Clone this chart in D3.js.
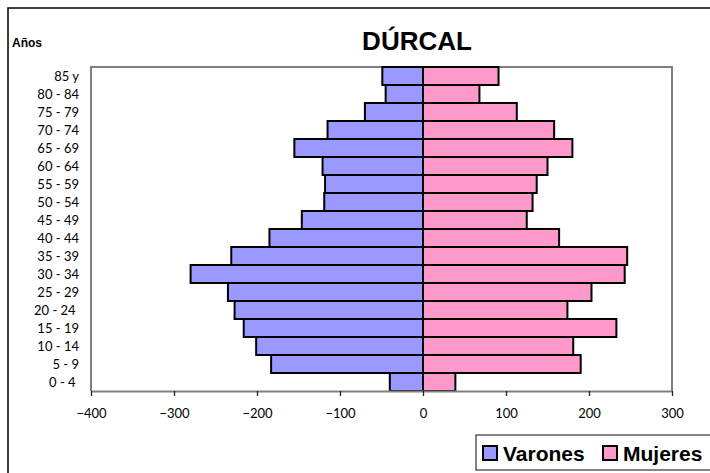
<!DOCTYPE html>
<html lang="es">
<head>
    <meta charset="UTF-8">
    <title>DÚRCAL</title>
    <script src="https://cdn.jsdelivr.net/npm/d3@7"></script>
    <style>
        body { margin: 0; background: #fff; }
    </style>
</head>
<body>
<script type="text/javascript">
    var width = 710;
    var height = 473;

    // datos (de abajo hacia arriba)
    var categories = ["0 - 4 ", "5 - 9", "10 - 14", "15 - 19", "20 - 24 ", "25 - 29", "30 - 34", "35 - 39",
        "40 - 44", "45 - 49", "50 - 54", "55 - 59", "60 - 64", "65 - 69", "70 - 74", "75 - 79", "80 - 84", "85 y"];
    var varones = [40, 183, 201, 216, 227, 235, 280, 231, 185, 146, 119, 118, 121, 155, 115, 70, 45, 49];
    var mujeres = [39, 190, 181, 233, 174, 203, 243, 246, 164, 125, 132, 137, 150, 180, 158, 113, 68, 91];
    var xTicks = [-400, -300, -200, -100, 0, 100, 200, 300];

    var plot = {left: 91, right: 672, top: 67, bottom: 391};
    var arial = "'Liberation Sans', Arial, sans-serif";
    var lato = "Lato, sans-serif";

    var svg = d3.select('body').append('svg')
            .attr('width', width)
            .attr('height', height);

    // marco exterior
    svg.append("rect")
            .attr("x", 8).attr("y", 8)
            .attr("width", 760).attr("height", 520)
            .attr("fill", "white")
            .attr("stroke", "black")
            .attr("stroke-width", 1.5);

    var xScale = d3.scaleLinear()
            .domain([-400, 300])
            .range([plot.left, plot.right]);
    var yScale = d3.scaleBand()
            .domain(categories.slice().reverse())
            .range([plot.top, plot.bottom])
            .padding(0);

    // borde del area de trazado
    svg.append("path")
            .attr("d", "M" + plot.left + "," + plot.bottom + "V" + plot.top + "H" + plot.right + "V" + plot.bottom)
            .attr("fill", "none")
            .attr("stroke", "#808080")
            .attr("stroke-width", 2);

    function drawBars(data, cls, color, left) {
        svg.selectAll("rect." + cls)
                .data(data)
                .enter()
                .append("rect")
                .attr("class", cls)
                .attr("fill", color)
                .attr("stroke", "black")
                .attr("stroke-width", 2)
                .attr("x", function (d) {
                    return left ? xScale(-d) : xScale(0);
                })
                .attr("y", function (d, i) {
                    return yScale(categories[i]);
                })
                .attr("width", function (d) {
                    return left ? xScale(0) - xScale(-d) : xScale(d) - xScale(0);
                })
                .attr("height", yScale.bandwidth());
    }

    drawBars(varones, "varones", "#9999FF", true);
    drawBars(mujeres, "mujeres", "#FF99CC", false);

    // eje x
    var xAxis = d3.axisBottom(xScale)
            .tickValues(xTicks)
            .tickSize(5)
            .tickSizeOuter(0)
            .tickPadding(13);
    var gx = svg.append("g")
            .attr("transform", "translate(0," + plot.bottom + ")")
            .call(xAxis);
    gx.select(".domain").attr("stroke", "#808080").attr("stroke-width", 2);
    gx.selectAll(".tick line").attr("stroke", "#222").attr("stroke-width", 1.3);
    gx.selectAll(".tick text")
            .style("font-family", lato)
            .style("font-size", "13px")
            .attr("fill", "#000");

    // etiquetas del eje y
    svg.selectAll("text.ylab")
            .data(categories)
            .enter()
            .append("text")
            .attr("class", "ylab")
            .attr("x", 79)
            .attr("y", function (d) {
                return yScale(d) + yScale.bandwidth() / 2;
            })
            .attr("dy", "0.35em")
            .attr("text-anchor", "end")
            .style("font-family", lato)
            .style("font-size", "13px")
            .style("white-space", "pre")
            .text(function (d) {
                return d;
            });

    // titulos
    svg.append("text")
            .attr("x", 417)
            .attr("y", 50)
            .attr("text-anchor", "middle")
            .style("font-family", arial)
            .style("font-weight", "bold")
            .style("font-size", "26px")
            .text("DÚRCAL");
    svg.append("text")
            .attr("x", 12)
            .attr("y", 47)
            .style("font-family", arial)
            .style("font-weight", "bold")
            .style("font-size", "12px")
            .text("Años");

    // leyenda
    var legend = svg.append("g");
    legend.append("rect")
            .attr("x", 476).attr("y", 435)
            .attr("width", 260).attr("height", 35)
            .attr("fill", "white")
            .attr("stroke", "#333")
            .attr("stroke-width", 1.2);
    var items = [{name: "Varones", color: "#9999FF", x: 483}, {name: "Mujeres", color: "#FF99CC", x: 603}];
    items.forEach(function (it) {
        legend.append("rect")
                .attr("x", it.x).attr("y", 446)
                .attr("width", 14).attr("height", 14)
                .attr("fill", it.color)
                .attr("stroke", "black")
                .attr("stroke-width", 2);
        legend.append("text")
                .attr("x", it.x + 20)
                .attr("y", 461)
                .style("font-family", arial)
                .style("font-weight", "bold")
                .style("font-size", "21px")
                .text(it.name);
    });
</script>
</body>
</html>
